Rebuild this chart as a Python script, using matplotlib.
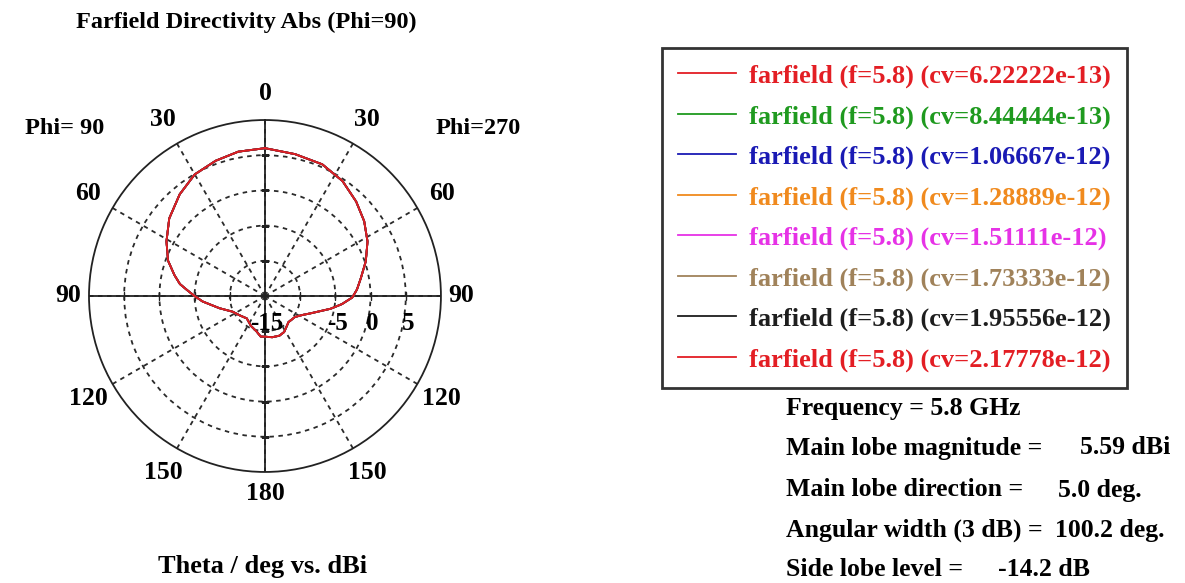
import numpy as np
import matplotlib
matplotlib.use("Agg")
import matplotlib.pyplot as plt
from matplotlib.transforms import offset_copy

plt.rcParams['font.family'] = ['Liberation Serif', 'DejaVu Serif']
plt.rcParams['font.weight'] = 'bold'

# farfield cut: angle clockwise from the top (deg), directivity (dBi)
angle_deg = [0, 12, 23.5, 34, 44, 53, 62, 71, 79.5, 86, 91, 96, 101, 111, 117, 125, 138,
             152, 160, 170, 178, 186, 193, 205, 219, 232, 244, 255, 265, 270, 274, 278,
             283, 290, 299, 309, 320, 330, 340, 349.5, 360]
dbi = [6.0, 5.6, 5.4, 4.7, 3.65, 2.65, 1.5, 0.15, -1.15, -1.9, -2.6, -4.0, -5.5, -8.1, -9.05, -9.8, -10.0,
       -9.2, -9.0, -9.05, -9.2, -9.2, -9.8, -10.3, -10.9, -10.5, -9.9, -8.3, -6.1, -5.0, -4.0, -2.8,
       -1.8, -0.35, 1.0, 2.5, 3.85, 4.95, 5.45, 5.85, 6.0]

# all eight capacitance values give the same cut, so the curves lie on top of each other
cv_labels = ["6.22222e-13", "8.44444e-13", "1.06667e-12", "1.28889e-12",
             "1.51111e-12", "1.73333e-12", "1.95556e-12", "2.17778e-12"]
colors = ["#e31e24", "#1f9a1f", "#1a1ab4", "#f08a1e", "#e632e6", "#a0825a", "#1e1e1e", "#e31e24"]

theta_ticks = [0, 30, 60, 90, 120, 150, 180, 210, 240, 270, 300, 330]
theta_labels = ["0", "30", "60", "90", "120", "150", "180", "150", "120", "90", "60", "30"]
ring_values = [-10, -5, 0, 5]
radial_labels = [-15, -5, 0, 5]
r_min, r_max = -15, 10

fig = plt.figure(figsize=(11.85, 5.83), dpi=100)
ax = fig.add_axes([0.0751, 0.1904, 0.297, 0.6038], projection='polar')
ax.set_theta_zero_location('N')
ax.set_theta_direction(-1)
ax.set_rlim(r_min, r_max)
ax.set_xticks(np.deg2rad(theta_ticks))
ax.set_xticklabels([])
ax.set_yticks(ring_values)
ax.set_yticklabels([])
ax.grid(True, color='#2a2a2a', linestyle=(0, (2.5, 2.5)), linewidth=1.3)
ax.spines['polar'].set_color('#222222')
ax.spines['polar'].set_linewidth(1.3)

# solid cross through the centre
for th in [0, np.pi / 2]:
    ax.plot([th, th], [r_min, r_max], color='#222222', lw=1.3, zorder=3)
    ax.plot([th + np.pi, th + np.pi], [r_min, r_max], color='#222222', lw=1.3, zorder=3)
for th in [0, np.pi]:
    ax.plot([th] * len(ring_values), ring_values, ls='none', marker='_', ms=6, color='#222222', zorder=3)
for th in [np.pi / 2, 3 * np.pi / 2]:
    ax.plot([th] * len(ring_values), ring_values, ls='none', marker='|', ms=6, color='#222222', zorder=3)

lines = []
for cv, c in zip(cv_labels, colors):
    ln, = ax.plot(np.deg2rad(angle_deg), dbi, color=c, lw=1.3, zorder=4,
                  label="farfield (f=5.8) (cv=%s)" % cv)
    lines.append(ln)

# theta labels around the circle
label_r = {0: 13.8, 90: 12.9, 180: 13.0}
for t, lab in zip(theta_ticks, theta_labels):
    ax.text(np.deg2rad(t), label_r.get(t if t <= 180 else 360 - t, 14.0), lab,
            ha='center', va='center', fontsize=18.5, clip_on=False)

# radial dB labels below the horizontal axis
shifted = offset_copy(ax.transData, fig=fig, x=2, y=-28, units='dots')
for v in radial_labels:
    ax.text(np.pi / 2, v, str(v), transform=shifted, ha='center', va='center', fontsize=18, zorder=5)

fig.text(246 / 1185, 1 - 22 / 583, "Farfield Directivity Abs (Phi=90)", ha='center', va='center', fontsize=17.5)
fig.text(65 / 1185, 1 - 128 / 583, "Phi= 90", ha='center', va='center', fontsize=17.5)
fig.text(478 / 1185, 1 - 128 / 583, "Phi=270", ha='center', va='center', fontsize=17.5)
fig.text(263 / 1185, 1 - 567 / 583, "Theta / deg vs. dBi", ha='center', va='center', fontsize=19)

leg = fig.legend(handles=lines, loc='upper left', bbox_to_anchor=(662 / 1185, 1 - 48 / 583),
                 frameon=True, fancybox=False, edgecolor='black', labelcolor='linecolor',
                 prop={'family': 'Liberation Serif', 'weight': 'bold', 'size': 19},
                 handlelength=2.2, handletextpad=0.5, labelspacing=0.63, borderpad=0.61,
                 borderaxespad=0)
leg.get_frame().set_linewidth(2)

info_left = ["Frequency = 5.8 GHz", "Main lobe magnitude =", "Main lobe direction =",
             "Angular width (3 dB) =", "Side lobe level ="]
info_values = ["", "5.59 dBi", "5.0 deg.", "100.2 deg.", "-14.2 dB"]
info_value_x = [0, 1080, 1058, 1055, 998]
info_y = [408, 448, 490, 530, 570]
for txt, val, vx, y in zip(info_left, info_values, info_value_x, info_y):
    fig.text(786 / 1185, 1 - y / 583, txt, ha='left', va='center', fontsize=18.5)
    if val:
        fig.text(vx / 1185, 1 - y / 583, val, ha='left', va='center', fontsize=18.5)

fig.savefig('out.png', dpi=100)
